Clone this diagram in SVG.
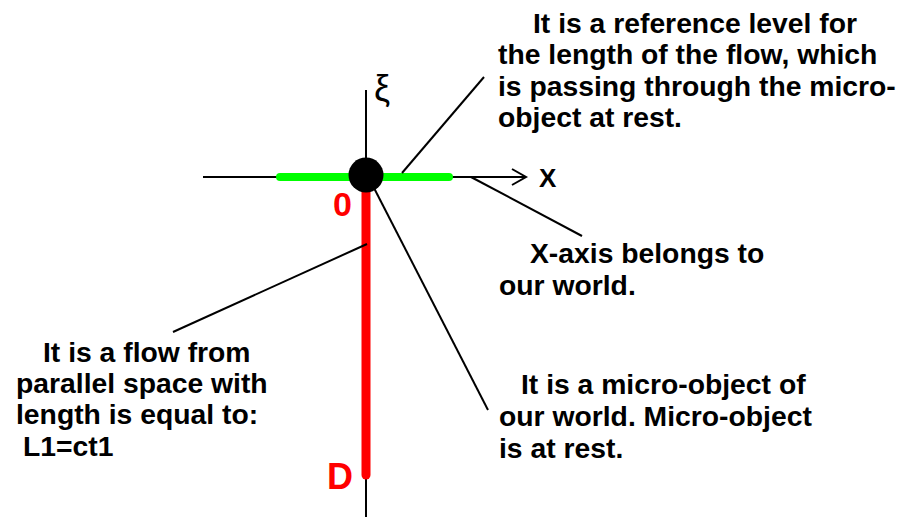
<svg xmlns="http://www.w3.org/2000/svg" width="902" height="517" viewBox="0 0 902 517">
<style>
.t{font-family:"Liberation Sans",Arial,sans-serif;font-weight:bold;font-size:28.3px;fill:#000}
.lbl{font-family:"Liberation Sans",Arial,sans-serif;font-weight:bold;fill:#f00}
.c{stroke:#000;stroke-width:2;fill:none}
</style>
<rect width="902" height="517" fill="#fff"/>
<g id="axes">
<line x1="366" y1="90" x2="366" y2="517" stroke="#000" stroke-width="2"/>
<line x1="203" y1="177" x2="525" y2="177" stroke="#000" stroke-width="2"/>
<polyline points="512,169 526,177 512,185" fill="none" stroke="#000" stroke-width="2"/>
<text x="374" y="101" font-family="'Liberation Sans',Arial,sans-serif" font-size="36" fill="#000">ξ</text>
<text x="539" y="187" font-family="'Liberation Sans',Arial,sans-serif" font-weight="bold" font-size="26" fill="#000">X</text>
</g>
<g id="reference-level">
<line x1="280" y1="177" x2="449" y2="177" stroke="#00ff00" stroke-width="8" stroke-linecap="round"/>
</g>
<g id="flow">
<line x1="366" y1="180" x2="366" y2="475" stroke="#f00" stroke-width="9" stroke-linecap="round"/>
<text x="333" y="216" class="lbl" font-size="34">0</text>
<text x="327" y="489" class="lbl" font-size="36">D</text>
</g>
<g id="micro-object">
<circle cx="366" cy="175" r="17.5" fill="#000"/>
</g>
<g id="connectors">
<line class="c" x1="402" y1="173" x2="484" y2="77"/>
<line class="c" x1="471" y1="177" x2="582" y2="236"/>
<line class="c" x1="374" y1="188" x2="488" y2="410"/>
<line class="c" x1="367" y1="244" x2="173" y2="332"/>
</g>
<g id="note-reference">
<text class="t" x="533" y="33">It is a reference level for</text>
<text class="t" x="498" y="64">the length of the flow, which</text>
<text class="t" x="498" y="96">is passing through the micro-</text>
<text class="t" x="498" y="127">object at rest.</text>
</g>
<g id="note-xaxis">
<text class="t" x="530" y="263">X-axis belongs to</text>
<text class="t" x="499" y="295">our world.</text>
</g>
<g id="note-micro">
<text class="t" x="521" y="394">It is a micro-object of</text>
<text class="t" x="499" y="426">our world. Micro-object</text>
<text class="t" x="499" y="458">is at rest.</text>
</g>
<g id="note-flow">
<text class="t" x="43" y="362">It is a flow from</text>
<text class="t" x="16" y="393">parallel space with</text>
<text class="t" x="16" y="424">length is equal to:</text>
<text class="t" x="23" y="456">L1=ct1</text>
</g>
</svg>
